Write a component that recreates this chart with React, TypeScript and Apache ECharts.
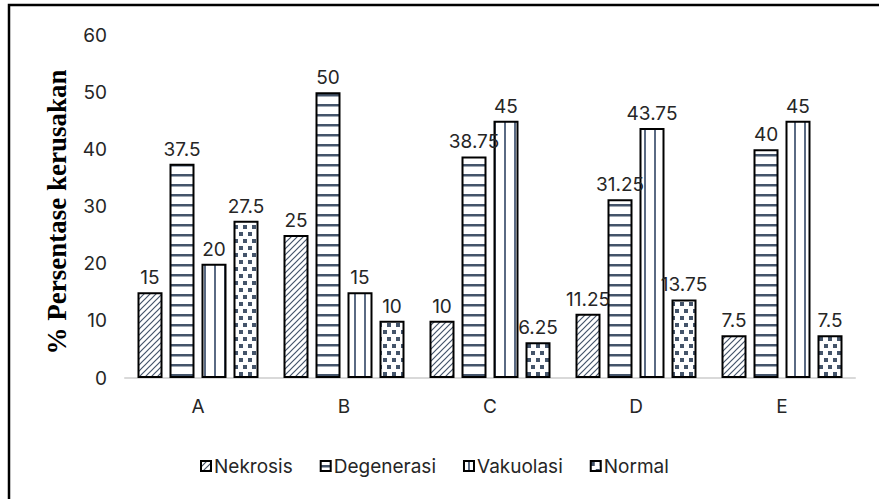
import React, { useEffect, useRef } from "react";
import * as echarts from "echarts";

const categories = ["A", "B", "C", "D", "E"];
const nekrosis = [15, 25, 10, 11.25, 7.5];
const degenerasi = [37.5, 50, 38.75, 31.25, 40];
const vakuolasi = [20, 15, 45, 43.75, 45];
const normal = [27.5, 10, 6.25, 13.75, 7.5];
const seriesNames = ["Nekrosis", "Degenerasi", "Vakuolasi", "Normal"];
const yTicks = { min: 0, max: 60, interval: 10 };
const axisTitle = "% Persentase kerusakan";

const INK = "#44546a";
const TEXT = "#262626";
const FONT = "Inter, 'Open Sans', sans-serif";

type Painter = (ctx: CanvasRenderingContext2D) => void;

function makePattern(w: number, h: number, paint: Painter) {
  const c = document.createElement("canvas");
  c.width = w;
  c.height = h;
  const ctx = c.getContext("2d") as CanvasRenderingContext2D;
  ctx.fillStyle = "#ffffff";
  ctx.fillRect(0, 0, w, h);
  paint(ctx);
  return { image: c, repeat: "repeat", imageWidth: w, imageHeight: h } as any;
}

function buildPatterns() {
  const diag = makePattern(6, 6, (ctx) => {
    ctx.strokeStyle = INK;
    ctx.lineWidth = 1.2;
    ctx.beginPath();
    ctx.moveTo(-1, 7);
    ctx.lineTo(7, -1);
    ctx.moveTo(-1, 1);
    ctx.lineTo(1, -1);
    ctx.moveTo(5, 7);
    ctx.lineTo(7, 5);
    ctx.stroke();
  });
  const horiz = makePattern(4, 10, (ctx) => {
    ctx.fillStyle = INK;
    ctx.fillRect(0, 4, 4, 2.5);
  });
  const vert = makePattern(10, 4, (ctx) => {
    ctx.fillStyle = "#5a6a83";
    ctx.fillRect(4, 0, 2, 4);
  });
  const dots = makePattern(9, 14, (ctx) => {
    ctx.fillStyle = INK;
    ctx.fillRect(0, 1, 4, 4);
    ctx.fillRect(5, 8, 4, 4);
  });
  return [diag, horiz, vert, dots];
}

export default function App() {
  const ref = useRef<HTMLDivElement>(null);

  useEffect(() => {
    if (!ref.current) return;
    const chart = echarts.init(ref.current, null, { renderer: "svg" });
    const patterns = buildPatterns();
    const values = [nekrosis, degenerasi, vakuolasi, normal];

    chart.setOption({
      animation: false,
      backgroundColor: "#ffffff",
      grid: { left: 125, right: 24, top: 35, bottom: 121 },
      legend: {
        left: 195,
        top: 450,
        itemWidth: 10,
        itemHeight: 10,
        itemGap: 27,
        icon: "rect",
        textStyle: { color: TEXT, fontSize: 19, fontFamily: FONT, lineHeight: 22, padding: [0, 0, 0, -2] },
        data: seriesNames,
      },
      xAxis: {
        type: "category",
        data: categories,
        axisLine: { lineStyle: { color: "#d9d9d9", width: 2 } },
        axisTick: { show: false },
        axisLabel: { color: TEXT, fontSize: 19, fontFamily: FONT, margin: 19 },
      },
      yAxis: {
        type: "value",
        min: yTicks.min,
        max: yTicks.max,
        interval: yTicks.interval,
        axisLine: { show: false },
        axisTick: { show: false },
        splitLine: { show: false },
        axisLabel: { color: TEXT, fontSize: 19, fontFamily: FONT, margin: 18 },
      },
      graphic: [
        {
          type: "rect",
          shape: { x: 9, y: 5, width: 1000, height: 1000 },
          style: { fill: "none", stroke: "#000000", lineWidth: 2.5 },
          silent: true,
        },
        {
          type: "text",
          x: 57,
          y: 212,
          rotation: Math.PI / 2,
          style: {
            text: axisTitle,
            font: "bold 27px 'Liberation Serif', 'Times New Roman', serif",
            fill: "#000000",
            textAlign: "center",
            textVerticalAlign: "middle",
          },
          silent: true,
        },
      ],
      series: seriesNames.map((name, i) => ({
        name,
        type: "bar",
        data: values[i],
        barWidth: 25,
        barGap: "28%",
        itemStyle: { color: patterns[i], borderColor: "#000000", borderWidth: 2 },
        label: {
          show: true,
          position: "top",
          distance: 5,
          color: TEXT,
          fontSize: 19,
          fontFamily: FONT,
        },
      })),
    });

    return () => chart.dispose();
  }, []);

  return (
    <div
      ref={ref}
      style={{ position: "fixed", left: 0, top: 0, width: 879, height: 499 }}
    />
  );
}
